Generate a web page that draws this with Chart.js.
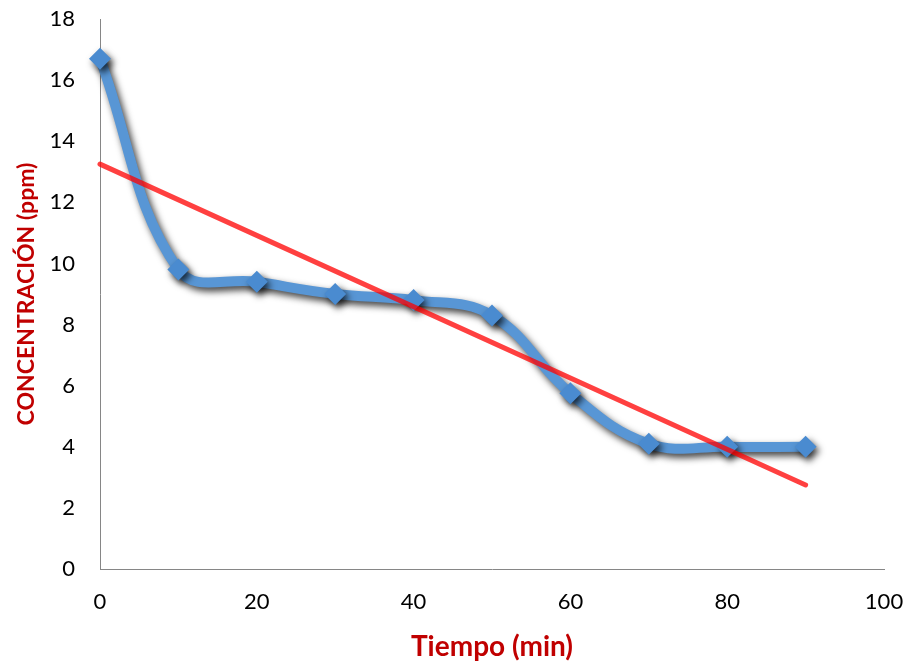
<!DOCTYPE html>
<html>
<head>
<meta charset="utf-8">
<script src="https://cdn.jsdelivr.net/npm/chart.js@4/dist/chart.umd.min.js"></script>
<style>
  html, body { margin: 0; padding: 0; background: #ffffff; }
  #wrap { width: 911px; height: 664px; }
</style>
</head>
<body>
<div id="wrap"><canvas id="chart" width="911" height="664"></canvas></div>
<script>
// Concentration measured over time
const tiempo = [0, 10, 20, 30, 40, 50, 60, 70, 80, 90];
const concentracion = [16.7, 9.8, 9.4, 9.0, 8.8, 8.3, 5.75, 4.1, 4.0, 4.0];

// Linear trend line endpoints
const tendenciaX = [0, 90];
const tendenciaY = [13.25, 2.75];

// Axis tick values
const ticksX = [0, 20, 40, 60, 80, 100];
const ticksY = [0, 2, 4, 6, 8, 10, 12, 14, 16, 18];

const serie = tiempo.map((x, i) => ({ x: x, y: concentracion[i] }));
const tendencia = tendenciaX.map((x, i) => ({ x: x, y: tendenciaY[i] }));

// Drop shadow under the measured series
const shadowPlugin = {
  id: 'serieShadow',
  beforeDatasetDraw(chart, args) {
    if (args.index !== 0) return;
    const ctx = chart.ctx;
    ctx.save();
    ctx.shadowColor = 'rgba(0,0,0,0.75)';
    ctx.shadowBlur = 7;
    ctx.shadowOffsetX = 3;
    ctx.shadowOffsetY = 4;
  },
  afterDatasetDraw(chart, args) {
    if (args.index !== 0) return;
    chart.ctx.restore();
  }
};

const axisColor = '#868686';
const titleColor = '#C00000';
const fontFamily = 'Lato, "Open Sans", sans-serif';

new Chart(document.getElementById('chart'), {
  type: 'line',
  data: {
    datasets: [
      {
        label: 'Concentración',
        data: serie,
        order: 2,
        borderColor: '#5896D5',
        borderWidth: 10,
        tension: 0.4,
        pointStyle: 'rectRot',
        pointRadius: 11,
        pointHoverRadius: 11,
        pointBackgroundColor: '#4A8BD0',
        pointBorderColor: '#4A8BD0',
        pointBorderWidth: 0,
        clip: false
      },
      {
        label: 'Tendencia',
        data: tendencia,
        order: 1,
        borderColor: 'rgba(255,0,0,0.75)',
        borderWidth: 5,
        borderCapStyle: 'round',
        tension: 0,
        pointRadius: 0,
        pointHoverRadius: 0,
        clip: false
      }
    ]
  },
  options: {
    responsive: false,
    animation: false,
    events: [],
    layout: { autoPadding: false, padding: { left: 0, right: 27, top: 19, bottom: 0 } },
    plugins: {
      legend: { display: false },
      tooltip: { enabled: false }
    },
    scales: {
      x: {
        type: 'linear',
        min: 0,
        max: 100,
        afterBuildTicks(scale) { scale.ticks = ticksX.map(v => ({ value: v })); },
        afterFit(scale) {
          scale.height = 95;
          scale.paddingLeft = 0;
          scale.paddingRight = 0;
        },
        grid: { display: false, drawOnChartArea: false, drawTicks: true, tickLength: 8, tickColor: axisColor },
        border: { display: true, color: axisColor, width: 1 },
        ticks: {
          color: '#000000',
          font: { family: fontFamily, size: 22 },
          padding: 12,
          maxRotation: 0
        },
        title: {
          display: true,
          text: 'Tiempo (min)',
          color: titleColor,
          font: { family: fontFamily, size: 28, weight: 'bold' },
          padding: { top: 0, bottom: 0 }
        }
      },
      y: {
        type: 'linear',
        min: 0,
        max: 18,
        afterBuildTicks(scale) { scale.ticks = ticksY.map(v => ({ value: v })); },
        afterFit(scale) {
          scale.width = 100;
          scale.paddingTop = 0;
          scale.paddingBottom = 0;
        },
        grid: { display: false, drawOnChartArea: false, drawTicks: true, tickLength: 8, tickColor: axisColor },
        border: { display: true, color: axisColor, width: 1 },
        ticks: {
          color: '#000000',
          font: { family: fontFamily, size: 22 },
          padding: 17
        },
        title: {
          display: true,
          text: 'CONCENTRACIÓN (ppm)',
          color: titleColor,
          font: { family: fontFamily, size: 23, weight: 'bold' },
          padding: { top: 13, bottom: 0 }
        }
      }
    }
  },
  plugins: [shadowPlugin]
});
</script>
</body>
</html>
